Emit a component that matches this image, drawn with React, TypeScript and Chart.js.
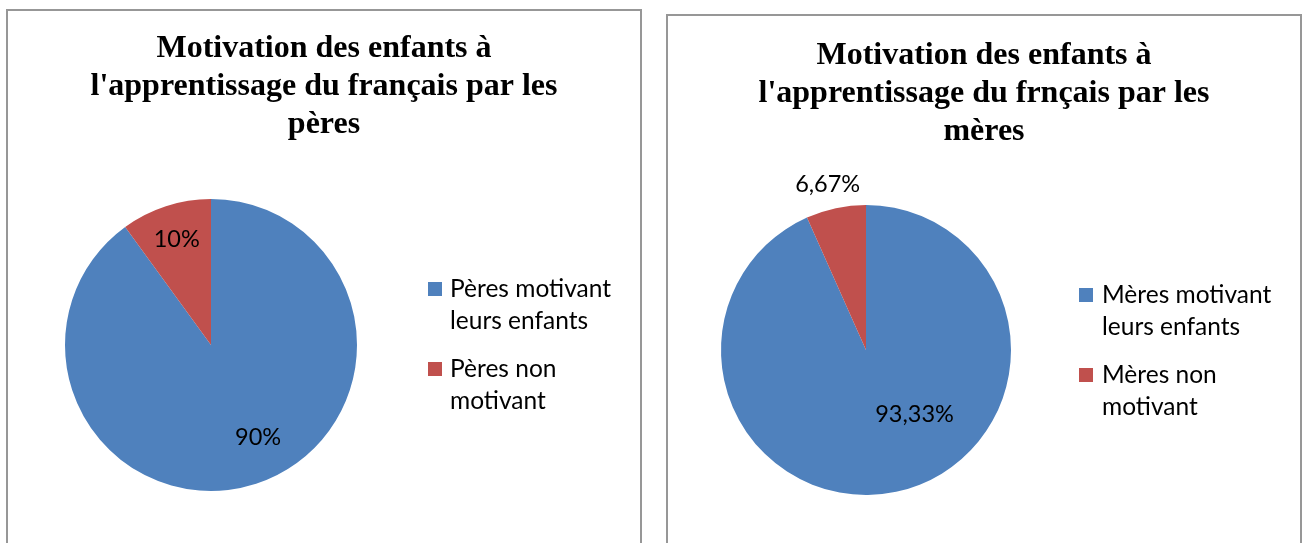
import React, { useEffect, useRef } from "react";
import { Chart, registerables, layouts } from "chart.js";

Chart.register(...registerables);

// ---------- data ----------
const leftTitle = ["Motivation des enfants à", "l'apprentissage du français par les", "pères"];
const leftLabels = ["Pères motivant leurs enfants", "Pères non motivant"];
const leftValues = [90, 10];

const rightTitle = ["Motivation des enfants à", "l'apprentissage du frnçais par les", "mères"];
const rightLabels = ["Mères motivant leurs enfants", "Mères non motivant"];
const rightValues = [93.33, 6.67];

const sliceColors = ["#4F81BD", "#C0504D"];

const fmt = (v: number) =>
  new Intl.NumberFormat("fr-FR", { maximumFractionDigits: 2 }).format(v) + "%";

const LABEL_FONT = "Lato";

function wrapText(ctx: CanvasRenderingContext2D, text: string, maxW: number): string[] {
  const words = text.split(" ");
  const lines: string[] = [];
  let cur = "";
  for (const w of words) {
    const test = cur ? cur + " " + w : w;
    if (ctx.measureText(test).width > maxW && cur) {
      lines.push(cur);
      cur = w;
    } else cur = test;
  }
  if (cur) lines.push(cur);
  return lines;
}

// data labels on the slices
const labelsPlugin = {
  id: "pieLabels",
  afterDatasetsDraw(chart: any, _args: any, opts: any) {
    const ctx: CanvasRenderingContext2D = chart.ctx;
    const meta = chart.getDatasetMeta(0);
    const values: number[] = chart.data.datasets[0].data;
    ctx.save();
    ctx.fillStyle = "#000";
    ctx.font = `${opts.fontSize}px ${LABEL_FONT}`;
    ctx.textAlign = "center";
    ctx.textBaseline = "middle";
    meta.data.forEach((arc: any, i: number) => {
      const p = arc.getProps(["x", "y", "startAngle", "endAngle", "outerRadius"], true);
      const pl = opts.placement[i];
      const mid = (p.startAngle + p.endAngle) / 2 + (pl.a * Math.PI) / 180;
      const r = p.outerRadius * pl.r;
      ctx.fillText(fmt(values[i]), p.x + Math.cos(mid) * r, p.y + Math.sin(mid) * r);
    });
    ctx.restore();
  },
};

// legend as a right-side layout box with a fixed width
const sideLegendPlugin = {
  id: "sideLegend",
  beforeInit(chart: any, _args: any, opts: any) {
    const box: any = {
      position: "right",
      weight: 1000,
      fullSize: false,
      options: {},
      left: 0,
      top: 0,
      right: 0,
      bottom: 0,
      width: 0,
      height: 0,
      isHorizontal() {
        return false;
      },
      update(_maxW: number, maxH: number) {
        this.width = opts.width;
        this.height = maxH;
      },
      draw() {
        const ctx: CanvasRenderingContext2D = chart.ctx;
        ctx.save();
        ctx.font = `${opts.fontSize}px ${LABEL_FONT}`;
        ctx.textAlign = "left";
        ctx.textBaseline = "middle";
        const labels: string[] = chart.data.labels;
        const colors: string[] = chart.data.datasets[0].backgroundColor;
        const x0 = this.left + opts.x;
        let y = opts.y;
        labels.forEach((lab, i) => {
          ctx.fillStyle = colors[i];
          ctx.fillRect(x0, y - opts.box / 2, opts.box, opts.box);
          ctx.fillStyle = "#000";
          const lines = wrapText(ctx, lab, opts.maxW);
          lines.forEach((ln, j) => {
            ctx.fillText(ln, x0 + opts.box + opts.gap, y + j * opts.lineH);
          });
          y += (lines.length - 1) * opts.lineH + opts.itemGap;
        });
        ctx.restore();
      },
    };
    layouts.addBox(chart, box);
  },
};

type PieProps = {
  title: string[];
  labels: string[];
  values: number[];
  radius: number;
  sideWidth: number;
  titleTop: number;
  placement: { r: number; a: number }[];
  legend: any;
};

const CW = 632;
const CH = 556;
const TITLE_SIZE = 32;
const TITLE_LH = 38;

function PieBox(props: PieProps) {
  const ref = useRef<HTMLCanvasElement | null>(null);
  useEffect(() => {
    if (!ref.current) return;
    const chart = new Chart(ref.current, {
      type: "pie",
      data: {
        labels: props.labels,
        datasets: [
          {
            data: props.values,
            backgroundColor: sliceColors,
            borderWidth: 0,
            radius: props.radius,
          } as any,
        ],
      },
      options: {
        responsive: false,
        animation: false,
        layout: { padding: { left: 0, right: 0, top: 0, bottom: 30 } },
        plugins: {
          legend: { display: false },
          tooltip: { enabled: false },
          title: {
            display: true,
            text: props.title,
            color: "#000",
            font: {
              family: "'Liberation Serif', 'Times New Roman', serif",
              size: TITLE_SIZE,
              weight: "bold",
              lineHeight: TITLE_LH / TITLE_SIZE,
            },
            padding: { top: props.titleTop, bottom: 28 - props.titleTop },
          },
          pieLabels: {
            fontSize: 23.5,
            placement: props.placement,
          },
          sideLegend: { ...props.legend, width: props.sideWidth },
        } as any,
      },
      plugins: [labelsPlugin, sideLegendPlugin],
    });
    return () => chart.destroy();
  }, []);
  return <canvas ref={ref} width={CW} height={CH} style={{ display: "block", width: CW, height: CH }} />;
}

export default function App() {
  const boxStyle = (left: number, top: number): React.CSSProperties => ({
    position: "absolute",
    left,
    top,
    width: CW,
    height: CH,
    border: "2px solid #979797",
    background: "#fff",
  });
  return (
    <div style={{ position: "absolute", left: 0, top: 0, width: 1306, height: 543, overflow: "hidden", background: "#fff" }}>
      <div style={boxStyle(6, 9)}>
        <PieBox
          title={leftTitle}
          labels={leftLabels}
          values={leftValues}
          radius={146}
          sideWidth={226}
          titleTop={19}
          placement={[
            { r: 0.71, a: -9 },
            { r: 0.76, a: 0 },
          ]}
          legend={{ x: 14, y: 278, box: 14, gap: 8, lineH: 32, itemGap: 48, maxW: 190, fontSize: 24.5 }}
        />
      </div>
      <div style={boxStyle(666, 14)}>
        <PieBox
          title={rightTitle}
          labels={rightLabels}
          values={rightValues}
          radius={145}
          sideWidth={236}
          titleTop={21}
          placement={[
            { r: 0.556, a: -25 },
            { r: 1.175, a: -1 },
          ]}
          legend={{ x: 15, y: 279, box: 14, gap: 9, lineH: 32, itemGap: 48, maxW: 195, fontSize: 24.5 }}
        />
      </div>
    </div>
  );
}
